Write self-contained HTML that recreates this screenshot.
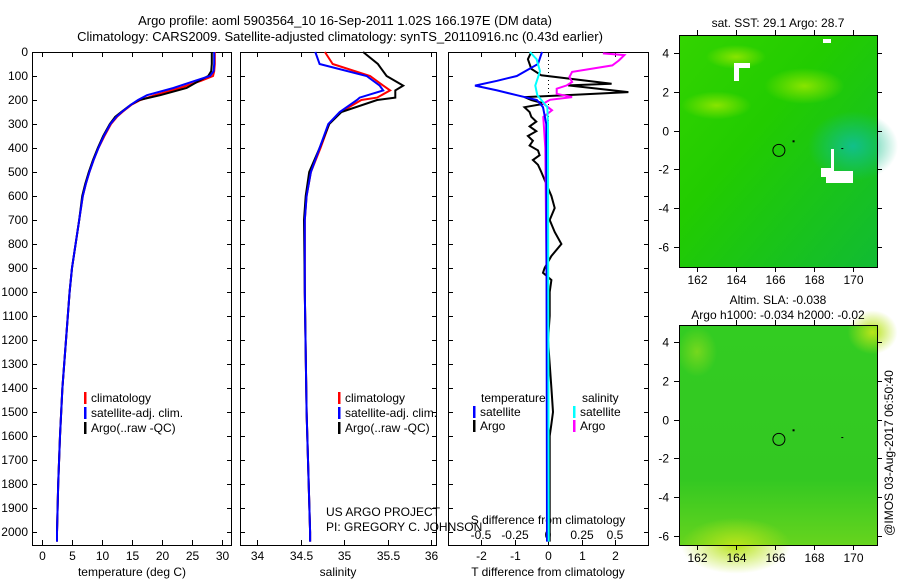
<!DOCTYPE html>
<html><head><meta charset="utf-8">
<style>
body{margin:0;background:#fff;}
svg{display:block;font-family:"Liberation Sans",sans-serif;}
text{fill:#000;}
</style></head>
<body>
<svg id="c" width="900" height="580" viewBox="0 0 900 580" xmlns="http://www.w3.org/2000/svg">
<defs>
<linearGradient id="m1" x1="0" y1="0" x2="1" y2="1">
<stop offset="0" stop-color="#33d400"/><stop offset="0.4" stop-color="#22cc00"/><stop offset="1" stop-color="#11bb33"/>
</linearGradient>
<radialGradient id="teal" cx="0.5" cy="0.5" r="0.5">
<stop offset="0" stop-color="#11c08a"/><stop offset="1" stop-color="#11c08a" stop-opacity="0"/>
</radialGradient>
<radialGradient id="yel" cx="0.5" cy="0.5" r="0.5">
<stop offset="0" stop-color="#88e400"/><stop offset="1" stop-color="#88e400" stop-opacity="0"/>
</radialGradient>
<linearGradient id="m2" x1="0" y1="0" x2="0" y2="1">
<stop offset="0" stop-color="#33cc22"/><stop offset="0.7" stop-color="#33c822"/><stop offset="1" stop-color="#66d41e"/>
</linearGradient>
<radialGradient id="yel2" cx="0.5" cy="0.5" r="0.5">
<stop offset="0" stop-color="#b8e41a"/><stop offset="1" stop-color="#b8e41a" stop-opacity="0"/>
</radialGradient>
</defs>
<text x="345" y="25" font-size="13" text-anchor="middle">Argo profile: aoml 5903564_10 16-Sep-2011 1.02S 166.197E (DM data)</text>
<text x="340" y="41" font-size="13" text-anchor="middle">Climatology: CARS2009. Satellite-adjusted climatology: synTS_20110916.nc (0.43d earlier)</text>
<g id="g"></g>
</svg>
<script>
// ---- data ----
const tDepth=[0,50,80,100,120,150,180,200,220,250,270,300,350,400,450,500,550,600,700,800,900,1000,1200,1400,1600,1800,2000,2040];
const tArgo=[28.3,28.3,28.2,27.7,26.2,24.1,19.7,16.2,14.8,13.2,12.2,11.3,10.2,9.3,8.5,7.8,7.2,6.7,6.2,5.6,5.0,4.6,4.0,3.4,3.0,2.7,2.5,2.5];
const tClim=[28.8,28.8,28.7,28.5,26.5,23.0,18.8,16.4,14.9,13.4,12.5,11.5,10.4,9.4,8.6,7.9,7.3,6.8,6.2,5.6,5.0,4.6,4.0,3.4,3.0,2.7,2.5,2.5];
const tSat=[28.7,28.7,28.6,28.0,25.5,21.9,17.5,16.0,14.8,13.3,12.4,11.4,10.3,9.4,8.6,7.9,7.3,6.8,6.2,5.6,5.0,4.6,4.0,3.4,3.0,2.7,2.5,2.5];
const sDepth=[0,50,100,140,160,190,200,250,300,400,500,600,700,1000,1500,2000,2040];
const sArgo=[35.22,35.39,35.49,35.68,35.59,35.59,35.38,34.97,34.83,34.72,34.60,34.56,34.54,34.55,34.57,34.61,34.61];
const sClim=[34.78,34.87,35.30,35.45,35.53,35.38,35.20,34.96,34.83,34.73,34.62,34.57,34.55,34.55,34.57,34.61,34.61];
const sSat=[34.67,34.72,35.26,35.41,35.45,35.18,35.15,34.95,34.82,34.72,34.62,34.57,34.55,34.55,34.57,34.61,34.61];
const dtDepth=[0,30,70,97,132,139,153,167,180,188,200,215,230,250,270,290,310,330,350,370,390,410,430,450,470,500,550,600,650,700,750,800,850,900,920,950,1000,1100,1200,1300,1400,1500,1550,1600,1800,2040];
const dtArgo=[-0.5,-0.6,-0.5,-0.2,1.9,0.6,1.5,2.4,0.5,-0.7,-0.5,-0.1,-0.7,-0.55,-0.5,-0.35,-0.55,-0.35,-0.6,-0.45,-0.55,-0.3,-0.25,-0.45,-0.3,-0.2,-0.05,0.1,0.2,0.05,0.2,0.4,0.1,-0.1,-0.15,0.1,0.05,0.05,0.0,0.05,0.1,0.15,0.1,0.05,0.05,0.05];
const dtSatDepth=[0,50,100,120,140,160,180,200,230,300,2040];
const dtSat=[-0.18,-0.3,-0.93,-1.52,-2.18,-1.52,-0.93,-0.33,-0.15,-0.05,-0.03];
const dsSatDepth=[0,30,80,140,180,230,300,2040];
const dsSat=[-0.135,-0.085,-0.06,-0.095,-0.08,-0.005,0.0,0.005];
const dsArgoDepth=[6,13,35,56,83,104,125,139,153,174,188,199,215,243,271,400,1000,2040];
const dsArgo=[0.41,0.57,0.53,0.48,0.18,0.16,0.18,0.14,0.065,0.065,0.18,0.015,-0.035,0.03,-0.035,-0.02,-0.01,0.0];
const depthTicks=[0,100,200,300,400,500,600,700,800,900,1000,1100,1200,1300,1400,1500,1600,1700,1800,1900,2000];
const tTicks=[0,5,10,15,20,25,30];
const sTicks=[34,34.5,35,35.5,36];
const dtTicks=[-2,-1,0,1,2];
const dsTicks=[-0.5,-0.25,0,0.25,0.5];
const dsTickLabels=["-0.5","-0.25","0","0.25","0.5"];
const lonTicks=[162,164,166,168,170];
const latTicks=[4,2,0,-2,-4,-6];

// ---- scales ----
const yD=d=>52+d*0.24;
const xT=t=>42+t*6;
const xS=s=>257+(s-34)*87;
const xDT=t=>548+t*33.5;
const xDS=s=>548+s*134;
const NS='http://www.w3.org/2000/svg';
const G=document.getElementById('g');
function el(tag,attrs,parent){const e=document.createElementNS(NS,tag);for(const k in attrs)e.setAttribute(k,attrs[k]);(parent||G).appendChild(e);return e;}
function txt(x,y,s,anchor,size){const t=el('text',{x:x,y:y,'font-size':size||12,'text-anchor':anchor||'middle'});t.textContent=s;return t;}
function line(xs,ys,xf,color,w,name){
  const pts=xs.map((v,i)=>xf(v).toFixed(1)+','+yD(ys[i]).toFixed(1)).join(' ');
  const p=el('polyline',{points:pts,fill:'none',stroke:color,'stroke-width':w,'stroke-linejoin':'miter'});
  
  
}
const panels=[[32,231],[240,436],[448,648]];
const TOP=52,BOT=545;
panels.forEach((p,i)=>{
  const r=el('rect',{x:p[0]+0.5,y:TOP+0.5,width:p[1]-p[0],height:BOT-TOP,fill:'#fff',stroke:'#000','stroke-width':1});
  
  
  depthTicks.forEach(d=>{
    el('line',{x1:p[0],x2:p[0]+5,y1:yD(d)+0.5,y2:yD(d)+0.5,stroke:'#000'});
    el('line',{x1:p[1]-4,x2:p[1]+1,y1:yD(d)+0.5,y2:yD(d)+0.5,stroke:'#000'});
  });
});
depthTicks.forEach(d=>{const t=txt(28,yD(d)+4,String(d),'end',12);
  
  });
function xticks(vals,f,labels,ly,topTicks){
  vals.forEach((v,i)=>{const x=Math.round(f(v))+0.5;
    el('line',{x1:x,x2:x,y1:BOT-5,y2:BOT,stroke:'#000'});
    if(topTicks)el('line',{x1:x,x2:x,y1:TOP,y2:TOP+5,stroke:'#000'});
    const t=txt(x,ly,labels?labels[i]:String(v),'middle',12);
    
    
  });
}
xticks(tTicks,xT,null,560,true);
xticks(sTicks,xS,null,560,true);
xticks(dtTicks,xDT,null,560,true);
dsTicks.forEach((v,i)=>{const x=Math.round(xDS(v));
  const t=txt(x,539,dsTickLabels[i],'middle',12);
  
  });
txt(132,576,'temperature (deg C)','middle',12);
txt(338,576,'salinity','middle',12);
txt(548,576,'T difference from climatology','middle',12);
txt(548,524,'S difference from climatology','middle',12);
txt(326,516,'US ARGO PROJECT','start',12);
txt(326,531,'PI: GREGORY C. JOHNSON','start',12);

line(tClim,tDepth,xT,'#f00',2,'temp-climatology-line');
line(tArgo,tDepth,xT,'#000',2,'temp-argo-line');
line(tSat,tDepth,xT,'#00f',2,'temp-satellite-line');
line(sClim,sDepth,xS,'#f00',2,'sal-climatology-line');
line(sArgo,sDepth,xS,'#000',2,'sal-argo-line');
line(sSat,sDepth,xS,'#00f',2,'sal-satellite-line');
el('line',{x1:548.5,x2:548.5,y1:TOP,y2:yD(300),stroke:'#000','stroke-dasharray':'1,3'});
line(dtArgo,dtDepth,xDT,'#000',2,'tdiff-argo-line');
line(dsArgo,dsArgoDepth,xDS,'#f0f',2,'sdiff-argo-line');
line(dtSat,dtSatDepth,xDT,'#00f',2,'tdiff-satellite-line');
line(dsSat,dsSatDepth,xDS,'#0ff',2,'sdiff-satellite-line');

function leg(x,y,color,label,name){
  el('rect',{x:x,y:y-10,width:2.5,height:12,fill:color});
  const t=txt(x+7,y,label,'start',12);
  
  
}
[[84],[338]].forEach((p,i)=>{
  leg(p[0],402,'#f00','climatology','legend-climatology-'+(i+1));
  leg(p[0],417,'#00f','satellite-adj. clim.','legend-satellite-'+(i+1));
  leg(p[0],432,'#000','Argo(..raw -QC)','legend-argo-'+(i+1));
});
txt(481,402,'temperature','start',12);
txt(582,402,'salinity','start',12);
leg(473,416,'#00f','satellite','legend-t-satellite');
leg(473,430,'#000','Argo','legend-t-argo');
leg(573,416,'#0ff','satellite','legend-s-satellite');
leg(573,430,'#f0f','Argo','legend-s-argo');

const xLon=l=>697+(l-162)*19.5;
function map(top,bottom,lat4,fill,name,extra){
  const yLat=l=>lat4+(4-l)*19.4;
  const g=el('g',{});
  
  
  el('rect',{x:679,y:top,width:198,height:bottom-top,fill:fill},g);
  extra(g,yLat);
  el('rect',{x:679.5,y:top+0.5,width:198,height:bottom-top,fill:'none',stroke:'#000'},g);
  lonTicks.forEach(l=>{const x=Math.round(xLon(l))+0.5;
    el('line',{x1:x,x2:x,y1:top,y2:top-5,stroke:'#000'},g);
    el('line',{x1:x,x2:x,y1:bottom,y2:bottom+5,stroke:'#000'},g);
    const t=txt(x,bottom+17,String(l),'middle',12);g.appendChild(t);});
  latTicks.forEach(l=>{const y=Math.round(yLat(l))+0.5;
    el('line',{x1:674,x2:679,y1:y,y2:y,stroke:'#000'},g);
    el('line',{x1:877,x2:882,y1:y,y2:y,stroke:'#000'},g);
    const t=txt(669,y+4,String(l),'end',12);g.appendChild(t);});
  el('circle',{cx:xLon(166.2),cy:yLat(-1.02),r:6,fill:'none',stroke:'#000'},g);
  el('rect',{x:xLon(166.9),y:yLat(-0.5),width:2,height:2,fill:'#000'},g);
  el('rect',{x:xLon(169.4),y:yLat(-0.9),width:2,height:1,fill:'#000'},g);
}
map(35,267,53,'url(#m1)','sst-map',(g,yLat)=>{
  el('ellipse',{cx:xLon(170),cy:yLat(-0.8),rx:45,ry:35,fill:'url(#teal)'},g);
  el('ellipse',{cx:xLon(163),cy:yLat(1.3),rx:35,ry:14,fill:'url(#yel)'},g);
  el('ellipse',{cx:xLon(167.5),cy:yLat(2.3),rx:40,ry:18,fill:'url(#yel)'},g);
  el('ellipse',{cx:xLon(164),cy:yLat(3.8),rx:30,ry:12,fill:'url(#yel)'},g);
  el('polygon',{points:[[734,63],[750,63],[750,68],[739,68],[739,81],[734,81]].join(' '),fill:'#fff'},g);
  el('polygon',{points:[[831,149],[834,149],[834,171],[853,171],[853,183],[826,183],[826,177],[821,177],[821,168],[831,168]].join(' '),fill:'#fff'},g);
  el('rect',{x:823,y:39,width:8,height:4,fill:'#fff'},g);
});
map(325,545,342,'url(#m2)','sla-map',(g,yLat)=>{
  el('ellipse',{cx:xLon(164),cy:yLat(-6.5),rx:55,ry:28,fill:'url(#yel2)'},g);
  el('ellipse',{cx:xLon(171),cy:yLat(4.5),rx:25,ry:22,fill:'url(#yel2)'},g);
  el('ellipse',{cx:xLon(162),cy:yLat(3.5),rx:20,ry:25,fill:'url(#yel2)',opacity:0.5},g);
});
txt(778,27,'sat. SST: 29.1 Argo: 28.7','middle',12);
txt(778,304,'Altim. SLA: -0.038','middle',12);
txt(778,319,'Argo h1000: -0.034 h2000: -0.02','middle',12);
const v=txt(0,0,'@IMOS 03-Aug-2017 06:50:40','middle',12);
v.setAttribute('transform','translate(893,453) rotate(-90)');


</script>
</body></html>
